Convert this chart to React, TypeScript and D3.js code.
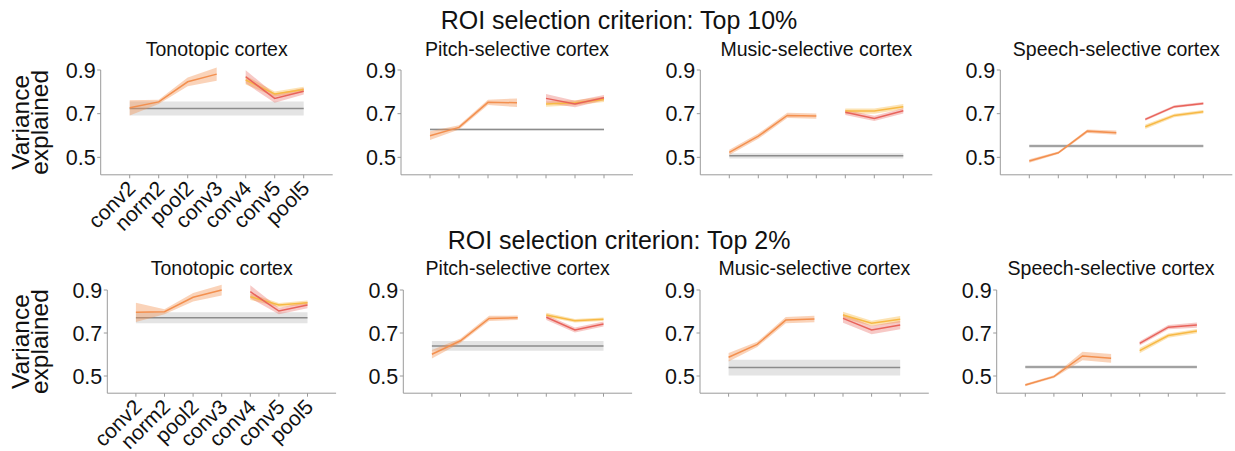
import React from "react";
import * as d3 from "d3";

const layers = ["conv2", "norm2", "pool2", "conv3", "conv4", "conv5", "pool5"];
const regions = ["Tonotopic cortex", "Pitch-selective cortex", "Music-selective cortex", "Speech-selective cortex"];
const criteria = ["Top 10%", "Top 2%"];
const yTicks = [0.5, 0.7, 0.9];

// Top 10%
const top10Shared = [[0.727, 0.754, 0.846, 0.881], [0.599, 0.637, 0.752, 0.750], [0.523, 0.597, 0.692, 0.689], [0.483, 0.521, 0.620, 0.613]];
const top10SharedErr = [[0.035, 0.01, 0.02, 0.03], [0.02, 0.01, 0.012, 0.02], [0.012, 0.012, 0.012, 0.012], [0.008, 0.006, 0.008, 0.01]];
const top10Word = [[0.869, 0.770, 0.803], [0.770, 0.744, 0.773], [0.706, 0.678, 0.713], [0.674, 0.732, 0.747]];
const top10WordErr = [[0.03, 0.02, 0.015], [0.02, 0.015, 0.012], [0.012, 0.012, 0.012], [0.006, 0.006, 0.006]];
const top10Genre = [[0.854, 0.790, 0.811], [0.744, 0.750, 0.765], [0.712, 0.712, 0.732], [0.640, 0.692, 0.709]];
const top10GenreErr = [[0.02, 0.012, 0.012], [0.012, 0.012, 0.012], [0.012, 0.012, 0.012], [0.01, 0.008, 0.008]];
const top10Base = [0.724, 0.628, 0.507, 0.552];
const top10BaseErr = [0.032, 0.004, 0.012, 0.008];

// Top 2%
const top2Shared = [[0.796, 0.799, 0.866, 0.900], [0.601, 0.664, 0.768, 0.771], [0.587, 0.647, 0.760, 0.765], [0.458, 0.497, 0.593, 0.582]];
const top2SharedErr = [[0.045, 0.012, 0.02, 0.025], [0.02, 0.01, 0.012, 0.01], [0.02, 0.012, 0.015, 0.015], [0.006, 0.006, 0.02, 0.02]];
const top2Word = [[0.892, 0.802, 0.830], [0.773, 0.714, 0.742], [0.768, 0.714, 0.737], [0.652, 0.727, 0.737]];
const top2WordErr = [[0.03, 0.015, 0.015], [0.012, 0.012, 0.012], [0.02, 0.02, 0.02], [0.01, 0.01, 0.012]];
const top2Genre = [[0.869, 0.830, 0.841], [0.784, 0.757, 0.764], [0.784, 0.745, 0.764], [0.618, 0.688, 0.709]];
const top2GenreErr = [[0.015, 0.01, 0.01], [0.01, 0.008, 0.008], [0.015, 0.012, 0.015], [0.012, 0.01, 0.01]];
const top2Base = [0.771, 0.640, 0.539, 0.542];
const top2BaseErr = [0.026, 0.023, 0.037, 0.008];

const rowsData = [
  { shared: top10Shared, sharedErr: top10SharedErr, word: top10Word, wordErr: top10WordErr, genre: top10Genre, genreErr: top10GenreErr, base: top10Base, baseErr: top10BaseErr },
  { shared: top2Shared, sharedErr: top2SharedErr, word: top2Word, wordErr: top2WordErr, genre: top2Genre, genreErr: top2GenreErr, base: top2Base, baseErr: top2BaseErr },
];

const rowLayout = [
  { lefts: [100.7, 401, 700.3, 1000.3], step: 29, top: 70, bottom: 174.8, title: 29, sub: 56 },
  { lefts: [107.3, 403.3, 700, 996.7], step: 28.6, top: 290, bottom: 393.2, title: 249, sub: 275 },
];

const FONT = "'Liberation Sans', Arial, Helvetica, sans-serif";
const C_SHARED = "#f3904f";
const C_WORD = "#e8635b";
const C_GENRE = "#f7b944";
const C_BASE = "#8c8c8c";
const C_BAND = "#e4e4e4";
const C_AXIS = "#9a9a9a";

function Panel({ row, col }: { row: number; col: number }) {
  const L = rowLayout[row];
  const D = rowsData[row];
  const left = L.lefts[col];
  const x = d3.scaleLinear().domain([-1, 7]).range([left, left + 8 * L.step]);
  const y = d3.scaleLinear().domain([0.42, 0.9]).range([L.bottom, L.top]);

  type P = { i: number; m: number; e: number };
  const line = d3.line<P>().x((d) => x(d.i)).y((d) => y(d.m));
  const area = d3.area<P>().x((d) => x(d.i)).y0((d) => y(d.m - d.e)).y1((d) => y(d.m + d.e));

  const shared: P[] = D.shared[col].map((m, k) => ({ i: k, m, e: D.sharedErr[col][k] }));
  const word: P[] = D.word[col].map((m, k) => ({ i: k + 4, m, e: D.wordErr[col][k] }));
  const genre: P[] = D.genre[col].map((m, k) => ({ i: k + 4, m, e: D.genreErr[col][k] }));
  const base: P[] = [0, 6].map((i) => ({ i, m: D.base[col], e: D.baseErr[col] }));

  const showXLabels = col === 0;
  const cx = (x(-1) + x(7)) / 2;

  return (
    <g>
      <text x={cx} y={L.sub} textAnchor="middle" fontSize={19.5} fontFamily={FONT} fill="#111">
        {regions[col]}
      </text>
      <path d={area(base) || ""} fill={C_BAND} />
      <path d={line(base) || ""} stroke={C_BASE} strokeWidth={1.5} fill="none" />
      <path d={area(shared) || ""} fill={C_SHARED} fillOpacity={0.4} />
      <path d={line(shared) || ""} stroke={C_SHARED} strokeWidth={1.5} fill="none" />
      <path d={area(genre) || ""} fill={C_GENRE} fillOpacity={0.4} />
      <path d={area(word) || ""} fill={C_WORD} fillOpacity={0.35} />
      <path d={line(genre) || ""} stroke={C_GENRE} strokeWidth={1.5} fill="none" />
      <path d={line(word) || ""} stroke={C_WORD} strokeWidth={1.5} fill="none" />
      {/* axes */}
      <line x1={x(-1)} x2={x(-1)} y1={y(0.42)} y2={y(0.9)} stroke={C_AXIS} strokeWidth={1} />
      <line x1={x(-1)} x2={x(7)} y1={y(0.42)} y2={y(0.42)} stroke={C_AXIS} strokeWidth={1} />
      {yTicks.map((t) => (
        <g key={t}>
          <line x1={x(-1) - 3.5} x2={x(-1)} y1={y(t)} y2={y(t)} stroke={C_AXIS} strokeWidth={1} />
          <text x={x(-1) - 5} y={y(t)} dy="0.36em" textAnchor="end" fontSize={21.5} fontFamily={FONT} fill="#111">
            {t.toFixed(1)}
          </text>
        </g>
      ))}
      {layers.map((lab, i) => (
        <g key={lab}>
          <line x1={x(i)} x2={x(i)} y1={y(0.42)} y2={y(0.42) + 3.5} stroke={C_AXIS} strokeWidth={1} />
          {showXLabels && (
            <text
              transform={`translate(${x(i) + 7},${y(0.42) + 15}) rotate(-45)`}
              textAnchor="end"
              fontSize={21}
              fontFamily={FONT}
              fill="#111"
            >
              {lab}
            </text>
          )}
        </g>
      ))}
      {col === 0 && (
        <text
          transform={`translate(28.5,${(L.top + L.bottom) / 2}) rotate(-90)`}
          textAnchor="middle"
          fontSize={24.5}
          fontFamily={FONT}
          fill="#111"
        >
          <tspan x={0} dy={0}>Variance</tspan>
          <tspan x={0} dy={19.5}>explained</tspan>
        </text>
      )}
    </g>
  );
}

export default function App() {
  return (
    <div style={{ position: "absolute", left: 0, top: 0 }}>
      <svg width={1235} height={451} style={{ display: "block", background: "#fff" }}>
        {criteria.map((c, r) => (
          <g key={c}>
            <text x={619} y={rowLayout[r].title} textAnchor="middle" fontSize={25} fontFamily={FONT} fill="#111">
              {`ROI selection criterion: ${c}`}
            </text>
            {regions.map((_, col) => (
              <Panel key={col} row={r} col={col} />
            ))}
          </g>
        ))}
      </svg>
    </div>
  );
}
